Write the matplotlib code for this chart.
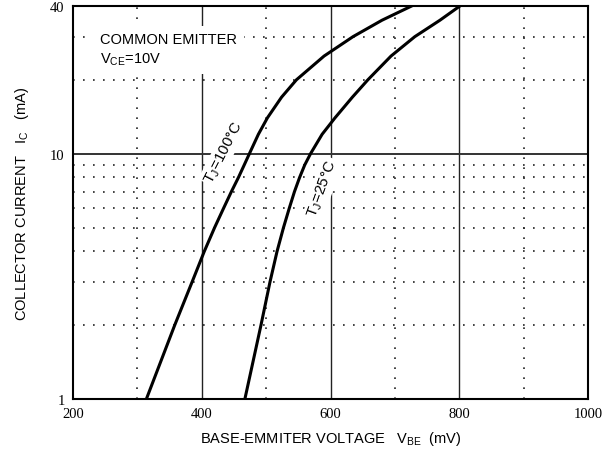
import numpy as np
import matplotlib
matplotlib.use("Agg")
import matplotlib.pyplot as plt

# collector current (mA) vs base-emitter voltage (mV)
ic_100 = [1, 2, 3, 4, 5, 6, 7, 8, 9, 10, 12, 14, 17, 20, 25, 30, 35, 40]
vbe_100 = [314, 358, 385, 404, 420, 434, 446, 457, 466, 474, 488, 502, 524, 547, 590, 635, 680, 726]

ic_25 = [1, 2, 3, 4, 5, 6, 7, 8, 9, 10, 12, 14, 17, 20, 25, 30, 35, 40]
vbe_25 = [467, 492, 506, 517, 527, 536, 544, 552, 560, 569, 587, 607, 634, 658, 694, 731, 770, 801]

x_ticks = [200, 400, 600, 800, 1000]
y_ticks = [1, 10, 40]
x_solid = [400, 600, 800]
x_dotted = [300, 500, 700, 900]
y_solid = [10]
y_dotted = [2, 3, 4, 5, 6, 7, 8, 9, 20, 30]

plt.rcParams["font.family"] = ["Liberation Sans", "DejaVu Sans"]
plt.rcParams["mathtext.fontset"] = "custom"
plt.rcParams["mathtext.rm"] = "Liberation Sans"
plt.rcParams["mathtext.it"] = "Liberation Sans:italic"

fig = plt.figure(figsize=(6.05, 4.52), dpi=100)
ax = fig.add_axes([73 / 605, 52 / 452, 515 / 605, 393 / 452])
ax.set_yscale("log")
ax.set_xlim(200, 1000)
ax.set_ylim(1, 40)

for x in x_solid:
    ax.axvline(x, color="#222222", lw=1.0, zorder=1)
for x in x_dotted:
    ax.axvline(x, color="#222222", lw=1.2, ls=(0, (1, 5)), zorder=1)
for y in y_solid:
    ax.axhline(y, color="#333333", lw=1.4, zorder=1)
for y in y_dotted:
    ax.axhline(y, color="#222222", lw=1.2, ls=(0, (1, 5)), zorder=1)

ax.plot(vbe_100, ic_100, color="black", lw=2.2, zorder=4, solid_joinstyle="round")
ax.plot(vbe_25, ic_25, color="black", lw=2.2, zorder=4, solid_joinstyle="round")

ax.set_xticks(x_ticks)
ax.set_xticklabels([str(v) for v in x_ticks], family="Liberation Serif", fontsize=10.5)
ax.set_yticks(y_ticks)
ax.set_yticklabels([str(v) for v in y_ticks], family="Liberation Serif", fontsize=10.5)
ax.yaxis.set_minor_locator(matplotlib.ticker.NullLocator())
ax.tick_params(length=0, pad=6)
for s in ax.spines.values():
    s.set_linewidth(1.5)

box = dict(facecolor="white", edgecolor="none", pad=1.5)
ax.text(0.052, 0.935, "COMMON EMITTER\nV$_{\\mathrm{CE}}$=10V", transform=ax.transAxes,
        fontsize=10.5, va="top", ha="left", linespacing=1.4, zorder=3,
        bbox=dict(facecolor="white", edgecolor="none", pad=5))
ax.text(434, 10.2, "T$_{\\mathrm{J}}$=100°C", fontsize=11, rotation=63,
        ha="center", va="center", zorder=3, bbox=box)
ax.text(588, 7.2, "T$_{\\mathrm{J}}$=25°C", fontsize=11, rotation=70,
        ha="center", va="center", zorder=3, bbox=box)

ax.set_xlabel("BASE-EMMITER VOLTAGE   V$_{\\mathrm{BE}}$  (mV)", fontsize=10.5, labelpad=6)
ax.set_ylabel("COLLECTOR CURRENT   I$_{\\mathrm{C}}$   (mA)", fontsize=10.5, labelpad=14)

fig.savefig("out.png", dpi=100)
